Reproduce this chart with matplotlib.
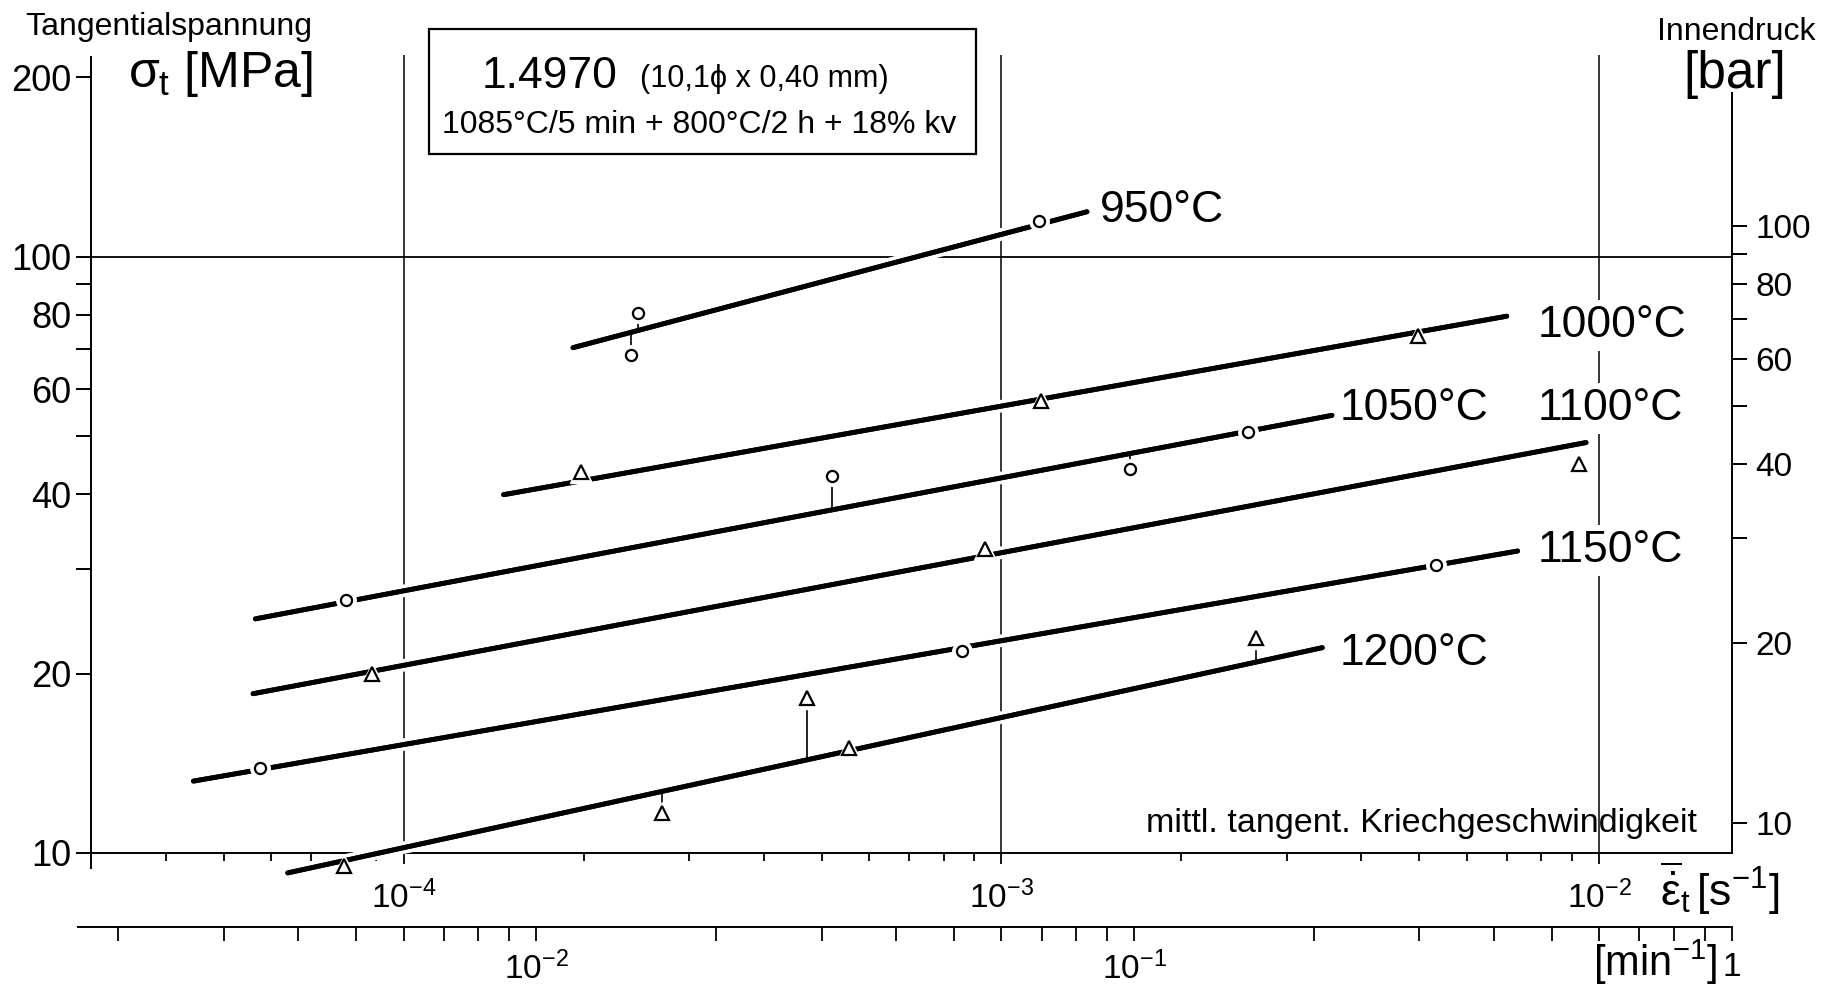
import numpy as np
import matplotlib
matplotlib.use("Agg")
import matplotlib.pyplot as plt
import matplotlib.patheffects as pe
from matplotlib import font_manager
from matplotlib.patches import Rectangle
from matplotlib.ticker import FixedLocator, FixedFormatter, NullFormatter

# Werte: Kriechgeschwindigkeit [1/s], Spannung [MPa]
temps = ["950°C", "1000°C", "1050°C", "1100°C", "1150°C", "1200°C"]
markers = ["o", "^", "o", "^", "o", "^"]

# Ausgleichsgeraden (Anfang, Ende)
line_x = [[1.92e-4, 1.39e-3], [1.47e-4, 7.0e-3], [5.65e-5, 3.57e-3],
          [5.6e-5, 9.5e-3], [4.45e-5, 7.3e-3], [6.4e-5, 3.44e-3]]
line_y = [[70.4, 119.0], [39.9, 79.5], [24.7, 54.2],
          [18.5, 48.8], [13.2, 32.1], [9.26, 22.1]]

# Messpunkte
pts_x = [[2.47e-4, 2.40e-4, 1.155e-3],
         [1.98e-4, 1.165e-3, 4.98e-3],
         [8.0e-5, 5.2e-4, 1.64e-3, 2.58e-3],
         [8.86e-5, 9.4e-4, 9.26e-3],
         [5.75e-5, 8.6e-4, 5.33e-3],
         [7.95e-5, 2.7e-4, 4.72e-4, 5.55e-4, 2.67e-3]]
pts_y = [[80.5, 68.5, 115.0],
         [43.5, 57.2, 73.6],
         [26.6, 42.9, 44.0, 50.9],
         [20.0, 32.4, 44.9],
         [13.9, 21.8, 30.4],
         [9.52, 11.65, 18.2, 15.0, 22.9]]
# Punkte mit Verbindungsstrich zur Geraden
pts_stem = [[True, True, False],
            [False, False, False],
            [False, True, True, False],
            [False, False, False],
            [False, False, False],
            [False, True, True, False, True]]

mpa_ticks = [10, 20, 40, 60, 80, 100, 200]
mpa_minor = [30, 50, 70, 90]
bar_ticks = [10, 20, 40, 60, 80, 100]
bar_minor = [30, 50, 70, 90]
BAR_PER_MPA = 0.889
s_major = [1e-4, 1e-3, 1e-2]
s_labels = ["$10^{-4}$", "$10^{-3}$", "$10^{-2}$"]
s_minor = [4e-5, 5e-5, 6e-5, 7e-5, 8e-5, 9e-5,
           2e-4, 3e-4, 4e-4, 5e-4, 6e-4, 7e-4, 8e-4, 9e-4,
           2e-3, 3e-3, 4e-3, 5e-3, 6e-3, 7e-3, 8e-3, 9e-3]
min_major = [1e-2, 1e-1, 1.0]
min_labels = ["$10^{-2}$", "$10^{-1}$", "1"]
min_minor = [2e-3, 3e-3, 4e-3, 5e-3, 6e-3, 7e-3, 8e-3, 9e-3,
             2e-2, 3e-2, 4e-2, 5e-2, 6e-2, 7e-2, 8e-2, 9e-2,
             0.2, 0.3, 0.4, 0.5, 0.6, 0.7, 0.8, 0.9]

names = {f.name for f in font_manager.fontManager.ttflist}
REG = "Liberation Sans" if "Liberation Sans" in names else "DejaVu Sans"
NARROW = "Liberation Sans Narrow" if "Liberation Sans Narrow" in names else REG

plt.rcParams["font.family"] = [NARROW, "DejaVu Sans"]
plt.rcParams["mathtext.fontset"] = "custom"
plt.rcParams["mathtext.rm"] = NARROW
plt.rcParams["mathtext.it"] = NARROW
plt.rcParams["mathtext.sf"] = NARROW

W_PX, H_PX = 1830, 988
fx = lambda px: px / W_PX
fy = lambda py: 1 - py / H_PX

fig = plt.figure(figsize=(18.3, 9.88), dpi=100)
X_LO, X_HI = 3e-5, 1 / 60
Y_LO, Y_HI = 10, 218
ax = fig.add_axes([fx(91), fy(853), fx(1732) - fx(91), fy(55) - fy(853)])
ax.set_xscale("log")
ax.set_yscale("log")
ax.set_xlim(X_LO, X_HI)
ax.set_ylim(Y_LO, Y_HI)
ax.patch.set_visible(False)

for s in ["top", "right"]:
    ax.spines[s].set_visible(False)
ax.spines["left"].set_bounds(9.44, 216)
ax.spines["left"].set_linewidth(1.4)
ax.spines["bottom"].set_linewidth(1.4)

ax.yaxis.set_major_locator(FixedLocator(mpa_ticks))
ax.yaxis.set_major_formatter(FixedFormatter([str(v) for v in mpa_ticks]))
ax.yaxis.set_minor_locator(FixedLocator(mpa_minor))
ax.yaxis.set_minor_formatter(NullFormatter())
ax.xaxis.set_major_locator(FixedLocator(s_major))
ax.xaxis.set_major_formatter(FixedFormatter(s_labels))
ax.xaxis.set_minor_locator(FixedLocator(s_minor))
ax.xaxis.set_minor_formatter(NullFormatter())
ax.tick_params(axis="y", which="both", direction="out", length=11, width=1.4,
               labelsize=26, pad=3)
ax.tick_params(axis="x", which="major", direction="out", length=8, width=1.3,
               labelsize=24, pad=12)
ax.tick_params(axis="x", which="minor", direction="out", length=6, width=1.3)

# Gitterlinien
for gx in s_major:
    ax.axvline(gx, color="black", lw=1.1, zorder=1)
ax.axhline(100, color="black", lw=1.3, zorder=1)

# Geraden, Stiele und Punkte
halo = [pe.withStroke(linewidth=9, foreground="white"), pe.Normal()]
for i in range(len(temps)):
    lx, ly = np.log10(line_x[i]), np.log10(line_y[i])
    ax.plot(line_x[i], line_y[i], color="black", lw=3.5, solid_capstyle="round",
            path_effects=halo, zorder=3, clip_on=False)
    for px, py, st in zip(pts_x[i], pts_y[i], pts_stem[i]):
        if st:
            yl = 10 ** np.interp(np.log10(px), lx, ly)
            ax.plot([px, px], [py, yl], color="black", lw=1.2, zorder=4, clip_on=False)
    ms = 8 if markers[i] == "o" else 10
    ax.plot(pts_x[i], pts_y[i], ls="none", marker=markers[i], ms=ms + 6,
            mfc="white", mec="white", zorder=5, clip_on=False)
    ax.plot(pts_x[i], pts_y[i], ls="none", marker=markers[i], ms=ms,
            mfc="white", mec="black", mew=1.6, zorder=6, clip_on=False)

# rechte Achse: Innendruck
ax2 = ax.twinx()
ax2.set_yscale("log")
ax2.set_ylim(Y_LO * BAR_PER_MPA, Y_HI * BAR_PER_MPA)
for s in ["top", "left", "bottom"]:
    ax2.spines[s].set_visible(False)
ax2.spines["right"].set_bounds(Y_LO * BAR_PER_MPA, 188 * BAR_PER_MPA)
ax2.spines["right"].set_linewidth(1.4)
ax2.yaxis.set_major_locator(FixedLocator(bar_ticks))
ax2.yaxis.set_major_formatter(FixedFormatter([str(v) for v in bar_ticks]))
ax2.yaxis.set_minor_locator(FixedLocator(bar_minor))
ax2.yaxis.set_minor_formatter(NullFormatter())
ax2.tick_params(axis="y", which="both", direction="out", length=11, width=1.4,
                labelsize=24, pad=6)

# untere Achse in 1/min
ax3 = fig.add_axes([fx(91), fy(927), fx(1732) - fx(91), 0.0005])
ax3.set_xscale("log")
ax3.set_xlim(X_LO * 60, X_HI * 60)
ax3.patch.set_visible(False)
for s in ["top", "left", "right"]:
    ax3.spines[s].set_visible(False)
ax3.spines["bottom"].set_bounds(1.715e-3, 1.0)
ax3.spines["bottom"].set_linewidth(1.4)
ax3.set_yticks([])
ax3.xaxis.set_major_locator(FixedLocator(min_major))
ax3.xaxis.set_major_formatter(FixedFormatter(min_labels))
ax3.xaxis.set_minor_locator(FixedLocator(min_minor))
ax3.xaxis.set_minor_formatter(NullFormatter())
ax3.tick_params(axis="x", which="both", direction="out", length=10, width=1.3,
                labelsize=24, pad=8)

# Beschriftungen
fig.text(fx(25), fy(35), "Tangentialspannung", family=REG, fontsize=23, va="baseline")
fig.text(fx(128), fy(87), r"$\sigma_t$ [MPa]", family=REG, fontsize=36, va="baseline")
fig.text(fx(1657), fy(40), "Innendruck", family=REG, fontsize=23, va="baseline")
fig.text(fx(1683), fy(88), "[bar]", family=REG, fontsize=37, va="baseline")
fig.text(fx(1660), fy(888), r"$\overline{\dot{\varepsilon}}_t\,[\mathrm{s}^{-1}]$",
         fontsize=32, va="center")
fig.text(fx(1593), fy(962), r"[min$^{-1}$]", family=REG, fontsize=30, va="center")
fig.text(fx(1697), fy(832), "mittl. tangent. Kriechgeschwindigkeit", family=REG,
         fontsize=24.5, ha="right", va="baseline")

fig.add_artist(Rectangle((fx(429), fy(154)), fx(976) - fx(429), fy(29) - fy(154),
                         transform=fig.transFigure, fill=False, ec="black", lw=1.6))
fig.text(fx(482), fy(88), "1.4970", fontsize=32, va="baseline")
fig.text(fx(640), fy(87), "(10,1ϕ x 0,40 mm)", family=[REG, "DejaVu Sans"],
         fontsize=22, va="baseline")
fig.text(fx(442), fy(133), "1085°C/5 min + 800°C/2 h + 18% kv", family=REG,
         fontsize=23, va="baseline")

label_pos = [(1100, 222), (1538, 337), (1340, 420), (1538, 420), (1538, 562), (1340, 665)]
for t, (lx_, ly_) in zip(temps, label_pos):
    fig.text(fx(lx_), fy(ly_), t, fontsize=32, va="baseline",
             bbox=dict(facecolor="white", edgecolor="none", pad=4))

fig.savefig("out.png", dpi=100)
